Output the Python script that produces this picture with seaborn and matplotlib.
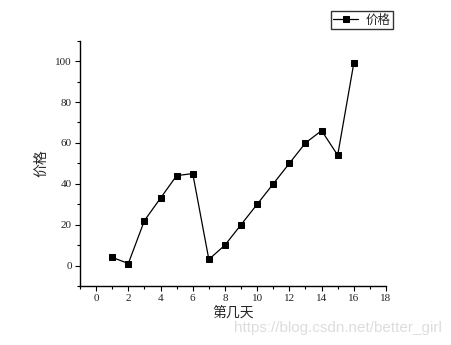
import matplotlib
matplotlib.use("Agg")
import matplotlib.pyplot as plt
import seaborn as sns
import pandas as pd
from matplotlib.ticker import MultipleLocator

days = [1, 2, 3, 4, 5, 6, 7, 8, 9, 10, 11, 12, 13, 14, 15, 16]
prices = [4, 1, 22, 33, 44, 45, 3, 10, 20, 30, 40, 50, 60, 66, 54, 99]
series_name = "价格"
x_label = "第几天"
y_label = "价格"
watermark = "https://blog.csdn.net/better_girl"

sns.set_theme(style="white")
plt.rcParams['font.family'] = ['Liberation Serif', 'Noto Sans CJK SC', 'DejaVu Sans']
cjk = ['Noto Sans CJK SC', 'DejaVu Sans']

df = pd.DataFrame({"day": days, "price": prices, "series": series_name})

fig = plt.figure(figsize=(4.51, 3.45), dpi=100)
ax = fig.add_axes([0.1774, 0.171, 0.6785, 0.711])

sns.lineplot(data=df, x="day", y="price", hue="series", palette=["black"],
             marker="s", markersize=5, markeredgecolor="black", linewidth=0.9,
             ax=ax, legend=True)

ax.set_xlim(-1, 18)
ax.set_ylim(-10, 110)
ax.xaxis.set_major_locator(MultipleLocator(2))
ax.xaxis.set_minor_locator(MultipleLocator(1))
ax.yaxis.set_major_locator(MultipleLocator(20))
ax.yaxis.set_minor_locator(MultipleLocator(10))
ax.tick_params(which="major", direction="out", length=3.5, width=0.8, colors="black",
               labelsize=8, pad=2.5, bottom=True, left=True)
ax.tick_params(which="minor", direction="out", length=2, width=0.8, colors="black",
               bottom=True, left=True)
for lab in ax.get_xticklabels() + ax.get_yticklabels():
    lab.set_color("#222222")

for s in ["top", "right"]:
    ax.spines[s].set_visible(False)
for s in ["left", "bottom"]:
    ax.spines[s].set_color("black")
    ax.spines[s].set_linewidth(1.0)

ax.set_xlabel(x_label, fontsize=10, family=cjk, labelpad=2)
ax.set_ylabel(y_label, fontsize=10, family=cjk, labelpad=5)

leg = ax.legend(loc="upper right", bbox_to_anchor=(393 / 451, 1 - 11 / 345),
                bbox_transform=fig.transFigure, frameon=True, fancybox=False,
                prop={"family": cjk, "size": 9}, handlelength=2.0, handletextpad=0.6,
                borderpad=0.2, borderaxespad=0)
leg.get_frame().set_edgecolor("black")
leg.get_frame().set_linewidth(1.0)

fig.text(442 / 451, 1 - 335 / 345, watermark, ha="right", va="bottom", fontsize=11,
         color="#dddddd", family=["Liberation Sans", "DejaVu Sans"])

fig.savefig("out.png", dpi=100, facecolor="white")
